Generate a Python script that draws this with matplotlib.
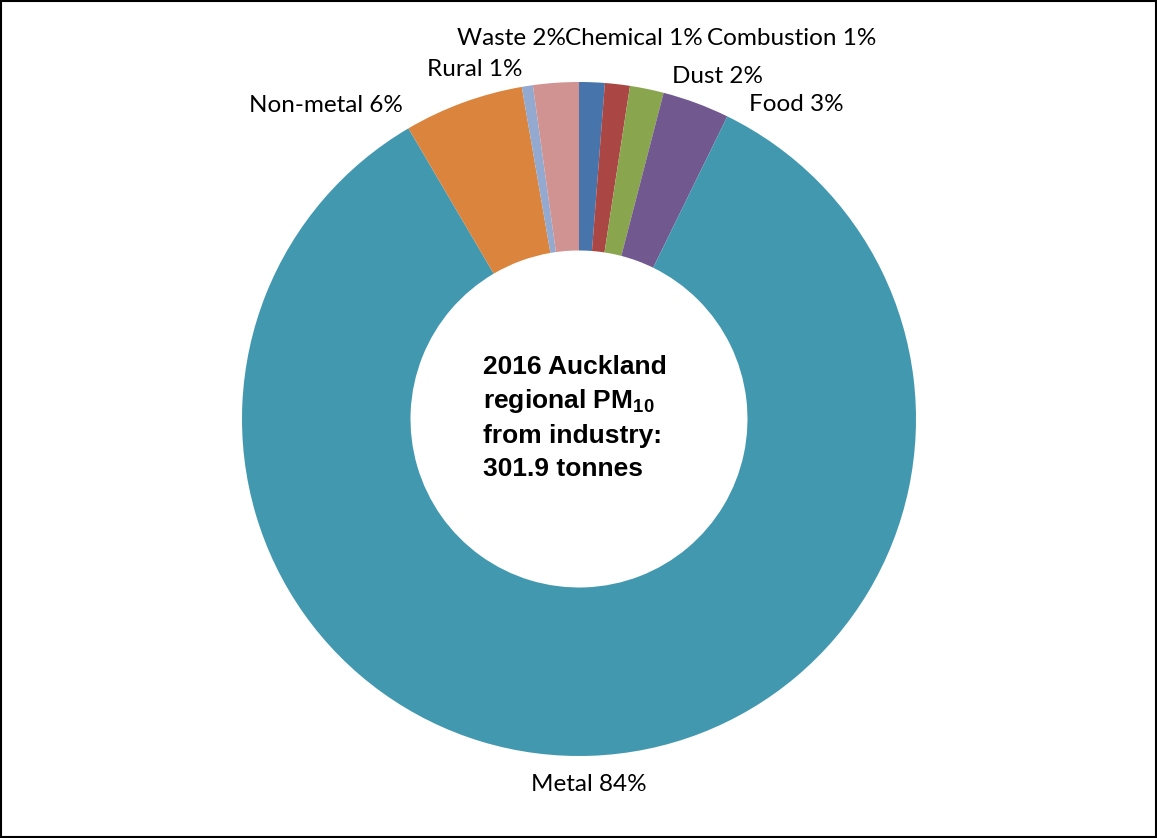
import matplotlib
matplotlib.use("Agg")
import matplotlib.pyplot as plt
from matplotlib.patches import Rectangle

# PM10 emissions from industry by sector (tonnes)
sectors = ["Combustion", "Chemical", "Dust", "Food", "Metal", "Non-metal", "Rural", "Waste"]
tonnes = [3.7, 3.6, 4.9, 9.7, 254.5, 17.3, 1.6, 6.6]
colors = ["#4674AB", "#AA4644", "#89A54E", "#71588F", "#4198AF", "#DB843D", "#93A9CF", "#D19392"]

# label anchor positions (data units, pie radius = 1)
label_pos = {
    "Combustion": (0.632, 1.128),
    "Chemical": (0.163, 1.128),
    "Dust": (0.412, 1.015),
    "Food": (0.644, 0.932),
    "Metal": (0.030, -1.086),
    "Non-metal": (-0.751, 0.929),
    "Rural": (-0.309, 1.036),
    "Waste": (-0.199, 1.128),
}

total = sum(tonnes)

plt.rcParams["mathtext.fontset"] = "custom"
plt.rcParams["mathtext.rm"] = "Liberation Sans:bold"
plt.rcParams["mathtext.bf"] = "Liberation Sans:bold"

W, H, DPI = 1157, 838, 100
fig = plt.figure(figsize=(W / DPI, H / DPI), dpi=DPI)
ax = fig.add_axes([0, 0, 1, 1])

cx, cy, scale = 579, 419, 337.0

ax.pie(tonnes, colors=colors, startangle=90, counterclock=False, radius=1.0,
       wedgeprops=dict(width=0.5, linewidth=0), frame=True)
ax.set_xlim(-cx / scale, (W - cx) / scale)
ax.set_ylim(-(H - cy) / scale, cy / scale)
ax.set_aspect("auto")
ax.axis("off")

for name, val in zip(sectors, tonnes):
    pct = int(val / total * 100 + 0.5)
    x, y = label_pos[name]
    ax.text(x, y, f"{name} {pct}%", ha="center", va="center",
            fontsize=17.5, family="Lato", color="black")

center_lines = ["2016 Auckland", "regional PM$_{10}$", "from industry:", f"{total:.1f} tonnes"]
line_y = [367, 401, 436, 469]
for line, py in zip(center_lines, line_y):
    ax.text((483 - cx) / scale, (cy - py) / scale, line, ha="left", va="center",
            fontsize=19, family="Liberation Sans", fontweight="bold", color="black")

fig.patches.append(Rectangle((0.001, 0.001), 0.998, 0.998, transform=fig.transFigure,
                             fill=False, edgecolor="black", linewidth=1.5))

fig.savefig("out.png", dpi=DPI)
